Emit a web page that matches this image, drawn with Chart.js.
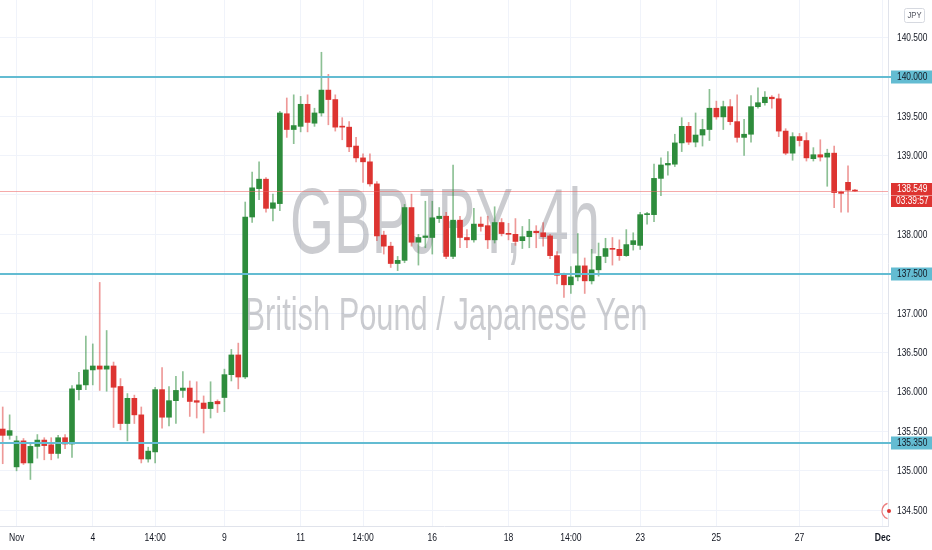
<!DOCTYPE html>
<html>
<head>
<meta charset="utf-8">
<title>GBPJPY 4h</title>
<script src="https://cdn.jsdelivr.net/npm/chart.js@4.4.1/dist/chart.umd.min.js"></script>
<style>
  html, body { margin: 0; padding: 0; background: #fff; }
  #wrap { width: 932px; height: 550px; position: relative; }
</style>
</head>
<body>
<div id="wrap"><canvas id="gbpjpy"></canvas></div>
<script>
// GBPJPY, 4h candles (oldest first)
const openPx = [
  135.53,135.45,135.05,135.38,135.10,135.31,135.39,135.33,135.22,135.42,
  135.34,136.03,136.09,136.28,136.33,136.29,136.33,136.07,135.60,135.92,
  135.71,135.15,135.24,136.03,135.68,135.89,136.02,136.05,135.89,135.86,
  135.79,135.88,135.93,136.22,136.47,136.19,138.22,138.58,138.70,138.33,
  138.39,139.53,139.33,139.37,139.65,139.41,139.54,139.83,139.71,139.37,
  139.36,139.12,138.97,138.92,138.64,137.99,137.85,137.63,137.67,138.34,
  137.90,137.96,137.96,138.20,138.23,137.72,138.18,137.96,137.93,138.13,
  138.11,137.93,138.15,138.01,138.00,137.92,137.97,138.04,138.02,137.98,
  137.73,137.48,137.36,137.46,137.60,137.41,137.55,137.72,137.82,137.81,
  137.73,137.87,137.86,138.25,138.25,138.71,138.88,138.89,139.16,139.37,
  139.17,139.26,139.33,139.60,139.49,139.62,139.43,139.23,139.27,139.62,
  139.67,139.74,139.72,139.31,139.03,139.24,139.19,138.96,139.01,138.98,
  139.03,138.54,138.66,138.56
];
const highPx = [
  135.81,135.71,135.44,135.41,135.36,135.46,135.42,135.42,135.45,135.46,
  136.08,136.25,136.71,136.61,137.39,136.78,136.38,136.17,135.98,135.96,
  135.81,135.30,136.06,136.31,136.07,136.20,136.26,136.14,136.13,135.95,
  136.13,135.90,136.29,136.54,136.62,138.41,138.79,138.92,138.72,138.51,
  139.56,139.73,139.77,139.75,139.77,139.60,140.31,140.03,139.77,139.48,
  139.43,139.23,139.02,139.02,138.67,138.04,137.90,137.72,138.38,138.51,
  138.00,138.42,138.42,138.34,138.28,138.88,138.23,138.06,138.33,138.22,
  138.23,138.35,138.20,138.14,138.20,138.10,138.19,138.11,138.15,138.00,
  137.78,137.51,137.59,138.01,137.70,137.81,137.89,137.95,137.96,137.93,
  138.06,138.02,138.28,138.28,138.89,138.97,139.05,139.27,139.48,139.42,
  139.54,139.46,139.84,139.69,139.69,139.71,139.77,139.46,139.76,139.86,
  139.81,139.76,139.78,139.34,139.29,139.28,139.29,139.10,139.20,139.08,
  139.12,138.55,138.87,138.57
];
const lowPx = [
  135.09,135.40,135.00,135.08,134.89,135.16,135.14,135.14,135.16,135.28,
  135.17,135.90,136.03,136.09,136.02,136.01,135.55,135.52,135.38,135.60,
  135.10,135.11,135.10,135.54,135.57,135.60,135.93,135.69,135.67,135.48,
  135.67,135.74,135.75,136.14,136.04,136.17,138.15,138.44,138.28,138.17,
  138.30,139.23,139.15,139.30,139.30,139.37,139.50,139.39,139.31,139.20,
  139.05,138.92,138.66,138.61,137.92,137.75,137.58,137.54,137.64,137.85,
  137.61,137.83,137.75,138.15,137.69,137.69,137.83,137.83,137.90,138.04,
  137.82,137.89,137.98,137.93,137.86,137.82,137.83,137.83,137.85,137.69,
  137.37,137.20,137.25,137.41,137.25,137.37,137.47,137.64,137.61,137.67,
  137.72,137.80,137.81,138.13,138.16,138.49,138.75,138.86,139.05,139.14,
  139.11,139.12,139.19,139.46,139.33,139.39,139.17,139.00,139.17,139.60,
  139.64,139.60,139.24,139.01,138.94,139.12,138.93,138.93,138.93,138.61,
  138.34,138.28,138.28,138.54
];
const closePx = [
  135.45,135.51,135.38,135.10,135.31,135.39,135.32,135.22,135.42,135.34,
  136.04,136.09,136.28,136.33,136.29,136.33,136.06,135.60,135.92,135.71,
  135.15,135.25,136.03,135.68,135.89,136.02,136.05,135.88,135.87,135.79,
  135.87,135.85,136.22,136.47,136.19,138.22,138.59,138.70,138.33,138.40,
  139.54,139.33,139.38,139.65,139.42,139.54,139.83,139.71,139.36,139.36,
  139.11,138.97,138.92,138.64,137.98,137.85,137.63,137.67,138.34,137.90,
  137.96,137.98,138.21,138.23,137.72,138.18,137.96,137.93,138.13,138.10,
  137.93,138.15,138.01,138.00,137.91,137.97,138.04,138.02,137.97,137.73,
  137.48,137.36,137.46,137.60,137.41,137.55,137.72,137.82,137.81,137.73,
  137.87,137.92,138.25,138.26,138.71,138.88,138.90,139.16,139.37,139.17,
  139.26,139.33,139.60,139.49,139.62,139.43,139.23,139.27,139.62,139.67,
  139.74,139.72,139.31,139.03,139.24,139.19,138.97,139.01,138.98,139.03,
  138.53,138.52,138.56,138.549
];

// time axis: candle index of each date label
const xTickAt   = [2, 13, 22, 32, 43, 52, 62, 73, 82, 92, 103, 115, 127];
const xTickText = ['Nov', '4', '14:00', '9', '11', '14:00', '16', '18', '14:00', '23', '25', '27', 'Dec'];
const yTicks = [134.5, 135.0, 135.5, 136.0, 136.5, 137.0, 137.5, 138.0, 138.5, 139.0, 139.5, 140.0, 140.5];

// drawn horizontal levels + last price
const levels = [140.000, 137.500, 135.350];
const lastPrice = 138.549;
const countdown = '03:39:57';

const UP = '#2e8c3c', DOWN = '#dd3431';
const UP_WICK = 'rgba(46,140,60,0.55)', DOWN_WICK = 'rgba(221,52,49,0.5)';
const LEVEL = '#63bcd2';
const FONT = "'Liberation Sans', Arial, sans-serif";

const idx = openPx.map((_, i) => i);
const isUp = idx.map(i => closePx[i] >= openPx[i]);
const bodies = idx.map(i => ({ x: i, y: [openPx[i], closePx[i]] }));
const wicks = idx.map(i => ({ x: i, y: [lowPx[i], highPx[i]] }));

// the screenshot is squeezed sideways, so text is drawn narrow
function narrowText(ctx, text, x, y, sx, align) {
  ctx.save();
  ctx.translate(x, y);
  ctx.scale(sx, 1);
  ctx.textAlign = align || 'left';
  ctx.fillText(text, 0, 0);
  ctx.restore();
}

function stretchText(ctx, text, cx, baseline, size, width) {
  ctx.save();
  ctx.font = size + 'px ' + FONT;
  const w = ctx.measureText(text).width;
  ctx.translate(cx, baseline);
  ctx.scale(width / w, 1);
  ctx.textAlign = 'center';
  ctx.textBaseline = 'alphabetic';
  ctx.fillText(text, 0, 0);
  ctx.restore();
}

const decor = {
  id: 'decor',
  beforeDatasetsDraw(chart) {
    const { ctx, chartArea: a } = chart;
    ctx.save();
    ctx.beginPath();
    ctx.rect(a.left, a.top, a.right - a.left, a.bottom - a.top);
    ctx.clip();
    ctx.fillStyle = 'rgba(125,128,138,0.40)';
    stretchText(ctx, 'GBPJPY, 4h', 445, 253, 92, 310);
    stretchText(ctx, 'British Pound / Japanese Yen', 446, 330, 46, 403);
    ctx.restore();
  },
  afterDatasetsDraw(chart) {
    const { ctx, chartArea: a, scales: { y } } = chart;
    ctx.save();
    const py = Math.round(y.getPixelForValue(lastPrice)) + 0.5;
    ctx.strokeStyle = 'rgba(236,100,100,0.55)';
    ctx.lineWidth = 1;
    ctx.beginPath();
    ctx.moveTo(a.left, py);
    ctx.lineTo(a.right, py);
    ctx.stroke();
    ctx.strokeStyle = LEVEL;
    ctx.lineWidth = 2;
    levels.forEach(v => {
      const ly = Math.round(y.getPixelForValue(v));
      ctx.beginPath();
      ctx.moveTo(a.left, ly);
      ctx.lineTo(a.right + 4, ly);
      ctx.stroke();
    });
    ctx.restore();
  },
  afterDraw(chart) {
    const { ctx, chartArea: a, scales: { x, y } } = chart;
    const W = chart.width;
    ctx.save();
    ctx.textBaseline = 'middle';

    // price axis labels
    ctx.font = '10.5px ' + FONT;
    ctx.fillStyle = '#131722';
    y.ticks.forEach(t => {
      narrowText(ctx, t.value.toFixed(3), a.right + 9, y.getPixelForValue(t.value) + 0.5, 0.8);
    });

    // time axis labels
    x.ticks.forEach(t => {
      const label = xTickText[xTickAt.indexOf(t.value)];
      ctx.font = (label === 'Dec' ? 'bold ' : '') + '11px ' + FONT;
      narrowText(ctx, label, x.getPixelForValue(t.value), a.bottom + 12, 0.78, 'center');
    });

    // level tags on the price axis
    ctx.font = '10.5px ' + FONT;
    levels.forEach(v => {
      const ly = Math.round(y.getPixelForValue(v));
      ctx.fillStyle = LEVEL;
      ctx.fillRect(a.right + 3, ly - 6.5, W - a.right - 3, 13);
      ctx.fillStyle = '#131722';
      narrowText(ctx, v.toFixed(3), a.right + 9, ly + 0.5, 0.8);
    });

    // last price tag + countdown
    const py = Math.round(y.getPixelForValue(lastPrice));
    ctx.fillStyle = DOWN;
    ctx.fillRect(a.right + 3, py - 8, W - a.right - 3, 24);
    ctx.fillStyle = 'rgba(255,255,255,0.45)';
    ctx.fillRect(a.right + 3, py + 4, W - a.right - 3, 1);
    ctx.fillStyle = '#fff';
    narrowText(ctx, lastPrice.toFixed(3), a.right + 9, py - 1.5, 0.8);
    narrowText(ctx, countdown, a.right + 8, py + 10, 0.8);

    // currency box
    ctx.strokeStyle = '#d6d9e0';
    ctx.lineWidth = 1;
    ctx.fillStyle = '#fff';
    ctx.beginPath();
    ctx.roundRect(904.5, 8.5, 20, 14, 2);
    ctx.fill();
    ctx.stroke();
    ctx.fillStyle = '#50535e';
    ctx.font = '9px ' + FONT;
    narrowText(ctx, 'JPY', 914.5, 16, 0.85, 'center');

    // small marker near the bottom of the price axis
    ctx.strokeStyle = 'rgba(230,80,80,0.75)';
    ctx.lineWidth = 1.2;
    ctx.beginPath();
    ctx.arc(890, 511, 8, Math.PI * 0.6, Math.PI * 1.4);
    ctx.stroke();
    ctx.fillStyle = DOWN;
    ctx.beginPath();
    ctx.arc(889, 511, 2, 0, Math.PI * 2);
    ctx.fill();
    ctx.restore();
  }
};

new Chart(document.getElementById('gbpjpy'), {
  type: 'bar',
  data: {
    datasets: [
      { label: 'body', data: bodies, backgroundColor: idx.map(i => isUp[i] ? UP : DOWN),
        barThickness: 5, minBarLength: 1, grouped: false, order: 1 },
      { label: 'wick', data: wicks, backgroundColor: idx.map(i => isUp[i] ? UP_WICK : DOWN_WICK),
        barThickness: 1, grouped: false, order: 2 }
    ]
  },
  options: {
    responsive: true,
    maintainAspectRatio: false,
    animation: false,
    layout: { padding: 0 },
    scales: {
      x: {
        type: 'linear',
        min: -0.39,
        max: 127.77,
        offset: false,
        afterBuildTicks: s => { s.ticks = xTickAt.map(v => ({ value: v })); },
        afterFit: s => { s.height = 24; s.paddingLeft = 0; s.paddingRight = 0; },
        grid: { color: '#f0f3fa', drawTicks: false, offset: false },
        border: { color: '#e0e3eb' },
        ticks: { display: false }
      },
      y: {
        position: 'right',
        min: 134.30,
        max: 140.973,
        afterBuildTicks: s => { s.ticks = yTicks.map(v => ({ value: v })); },
        afterFit: s => { s.width = 44; s.paddingTop = 0; s.paddingBottom = 0; },
        grid: { color: '#f0f3fa', drawTicks: false },
        border: { color: '#e0e3eb' },
        ticks: { display: false }
      }
    },
    plugins: {
      legend: { display: false },
      tooltip: { enabled: false }
    }
  },
  plugins: [decor]
});
</script>
</body>
</html>
